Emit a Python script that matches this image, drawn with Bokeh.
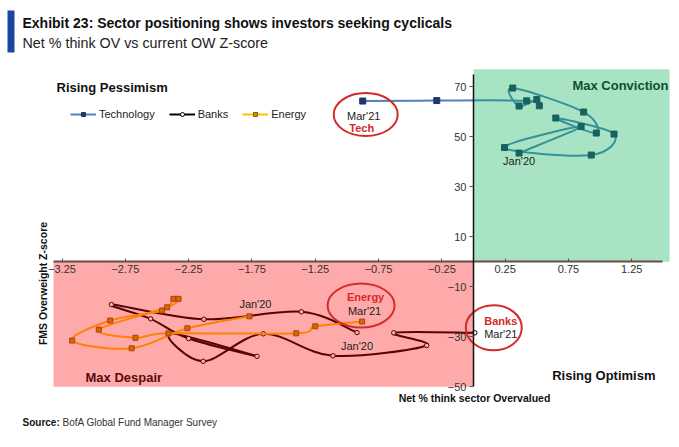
import numpy as np
from bokeh.plotting import figure
from bokeh.models import Range1d, FixedTicker, Legend, LegendItem, Label, ColumnDataSource
from bokeh.embed import file_html
from bokeh.resources import INLINE

# ---------------- data (Jan'20 -> Mar'21) ----------------
tech_x = [0.36, 0.85, 0.245, 0.93, 1.11, 0.65, 0.97, 0.87, 0.31, 0.36, 0.50, 0.52, 0.42, -0.29, -0.875]
tech_y = [43.5, 54.1, 45.7, 42.7, 51.1, 57.5, 51.5, 59.9, 69.5, 62.3, 64.9, 62.4, 64.4, 64.5, 64.3]

banks_x = [-0.92, -1.36, -2.13, -2.86, -2.55, -2.25, -1.71, -2.40, -2.135, -1.66, -1.11, -0.37, -0.63, 0.01]
banks_y = [-28.3, -20.0, -23.0, -17.1, -22.8, -30.7, -37.8, -28.6, -39.8, -28.8, -37.6, -33.5, -28.4, -28.4]

energy_x = [-1.77, -2.26, -2.70, -3.17, -2.87, -2.46, -2.37, -2.33, -2.42, -2.96, -2.67, -2.41, -1.40, -1.25, -0.88]
energy_y = [-21.8, -26.6, -34.6, -31.5, -23.5, -19.5, -14.8, -14.8, -18.2, -27.1, -30.4, -28.6, -28.6, -25.8, -23.9]

x_ticks = [-3.25, -2.75, -2.25, -1.75, -1.25, -0.75, -0.25, 0.25, 0.75, 1.25]
y_ticks = [70, 50, 30, 10, -10, -30, -50]

# ---------------- layout helpers ----------------
W, H = 679, 447
X0, SX = 473.0, 126.6   # px of x=0, px per unit
Y0, SY = 261.3, 2.5     # px of y=0, px per unit


def dx(px):  # picture px -> data x
    return (px - X0) / SX


def dy(py):  # picture py -> data y
    return (Y0 - py) / SY


p = figure(width=W, height=H, output_backend="svg", toolbar_location=None,
           x_range=Range1d(-X0 / SX, (W - X0) / SX),
           y_range=Range1d((Y0 - H) / SY, Y0 / SY),
           min_border=0)
p.outline_line_color = None
p.grid.visible = False
p.background_fill_color = "white"


def smooth(xs, ys, t=1.0 / 6.0):
    x = np.asarray(xs, float)
    y = np.asarray(ys, float)
    n = len(x)
    xp = np.concatenate([[x[0]], x, [x[-1]]])
    yp = np.concatenate([[y[0]], y, [y[-1]]])
    i = np.arange(n - 1) + 1
    return dict(x0=x[:-1], y0=y[:-1], x1=x[1:], y1=y[1:],
                cx0=xp[i] + (xp[i + 1] - xp[i - 1]) * t,
                cy0=yp[i] + (yp[i + 1] - yp[i - 1]) * t,
                cx1=xp[i + 1] - (xp[i + 2] - xp[i]) * t,
                cy1=yp[i + 1] - (yp[i + 2] - yp[i]) * t)


TECH_C, TECH_M = "#4f81bd", "#1f3864"
BANK_C = "#000000"
EN_C, EN_M, EN_F = "#ffc000", "#7f6000", "#c89600"

# series lines
p.bezier(source=ColumnDataSource(smooth(tech_x, tech_y)), x0="x0", y0="y0", x1="x1", y1="y1",
         cx0="cx0", cy0="cy0", cx1="cx1", cy1="cy1", line_color=TECH_C, line_width=2)
tech_pts = p.scatter(tech_x, tech_y, marker="square", size=6, fill_color=TECH_M, line_color=TECH_M)

p.bezier(source=ColumnDataSource(smooth(banks_x, banks_y)), x0="x0", y0="y0", x1="x1", y1="y1",
         cx0="cx0", cy0="cy0", cx1="cx1", cy1="cy1", line_color=BANK_C, line_width=2)
bank_pts = p.scatter(banks_x, banks_y, marker="circle", size=4.5, fill_color="white", line_color=BANK_C,
                     line_width=1)

p.bezier(source=ColumnDataSource(smooth(energy_x, energy_y)), x0="x0", y0="y0", x1="x1", y1="y1",
         cx0="cx0", cy0="cy0", cx1="cx1", cy1="cy1", line_color=EN_C, line_width=2)
en_pts = p.scatter(energy_x, energy_y, marker="square", size=5, fill_color=EN_F, line_color=EN_M,
                   line_width=1)

# translucent quadrant overlays (drawn over the lines)
p.quad(left=[0], right=[dx(669)], bottom=[0], top=[77], fill_color="#06b256", fill_alpha=0.35,
       line_color=None)
p.quad(left=[dx(53)], right=[0], bottom=[-50], top=[0], fill_color="#ff0c0c", fill_alpha=0.35,
       line_color=None)

# axes through the origin
p.xaxis.fixed_location = 0
p.yaxis.fixed_location = 0
p.xaxis.ticker = FixedTicker(ticks=x_ticks)
p.yaxis.ticker = FixedTicker(ticks=y_ticks)
p.xaxis.bounds = (dx(53), 1.49)
p.yaxis.bounds = (-50, 75)
for ax in (p.xaxis, p.yaxis):
    ax.minor_tick_line_color = None
    ax.major_label_text_font = "Liberation Sans"
    ax.major_label_text_font_size = "11px"
    ax.major_label_text_color = "#333333"
    ax.major_tick_line_color = "#555555"
p.xaxis.major_tick_in = 3
p.xaxis.major_tick_out = 0
p.xaxis.major_label_standoff = 3
p.xaxis.axis_line_color = "#6b4a4a"
p.xaxis.axis_line_width = 2
p.yaxis.major_tick_in = 0
p.yaxis.major_tick_out = 4
p.yaxis.major_label_standoff = 3
p.yaxis.axis_line_color = "#111111"
p.yaxis.axis_line_width = 1.5

# legend (line swatches + markers)
lt = p.line(x=[np.nan], y=[np.nan], line_color=TECH_C, line_width=2)
lb = p.line(x=[np.nan], y=[np.nan], line_color=BANK_C, line_width=2)
le = p.line(x=[np.nan], y=[np.nan], line_color=EN_C, line_width=2)
legend = Legend(items=[LegendItem(label="Technology", renderers=[lt, tech_pts]),
                       LegendItem(label="Banks", renderers=[lb, bank_pts]),
                       LegendItem(label="Energy", renderers=[le, en_pts])],
                orientation="horizontal", location=(70, 327),
                label_text_font="Liberation Sans", label_text_font_size="11px",
                label_text_color="#222222",
                glyph_width=26, glyph_height=10, label_standoff=3, spacing=14,
                padding=0, margin=0, border_line_color=None, background_fill_alpha=0)
p.add_layout(legend, "center")

# annotation ellipses around Mar'21 points
RED = "#d42a2a"
p.ellipse(x=[tech_x[-1] + 3 / SX, energy_x[-1] - 1 / SX, banks_x[-1] + 19 / SX],
          y=[tech_y[-1] - 13.5 / SY, energy_y[-1] + 16 / SY, banks_y[-1] + 5 / SY],
          width=[64 / SX, 67 / SX, 56 / SX], height=[43 / SY, 44 / SY, 45 / SY],
          fill_color=None, line_color=RED, line_width=2)


def lab(x, y, text, size="11px", color="#222222", bold=False, align="center", angle=0.0,
        font="Liberation Sans", xo=0, yo=0):
    p.add_layout(Label(x=x, y=y, text=text, text_font=font, text_font_size=size,
                       text_color=color, text_font_style="bold" if bold else "normal",
                       text_align=align, text_baseline="middle", angle=angle,
                       x_offset=xo, y_offset=yo))


# point labels (offsets in px from the data point)
lab(tech_x[-1], tech_y[-1], "Mar'21", xo=1, yo=-15)
lab(tech_x[-1], tech_y[-1], "Tech", color=RED, bold=True, xo=-1, yo=-26.5)
lab(energy_x[-1], energy_y[-1], "Energy", color=RED, bold=True, xo=3.5, yo=25)
lab(energy_x[-1], energy_y[-1], "Mar'21", xo=2.5, yo=11)
lab(banks_x[-1], banks_y[-1], "Banks", color=RED, bold=True, xo=26, yo=12)
lab(banks_x[-1], banks_y[-1], "Mar'21", xo=26, yo=-1)
lab(tech_x[0], tech_y[0], "Jan'20", xo=0, yo=-8)
lab(energy_x[0], energy_y[0], "Jan'20", xo=6, yo=12)
lab(banks_x[0], banks_y[0], "Jan'20", xo=0, yo=-13)

# quadrant captions
lab(dx(56), dy(87), "Rising Pessimism", size="13px", color="#111111", bold=True, align="left")
lab(dx(668), dy(85), "Max Conviction", size="13px", color="#0f4f2c", bold=True, align="right")
lab(dx(85), dy(377), "Max Despair", size="13px", color="#5a0c0c", bold=True, align="left")
lab(dx(655), dy(375), "Rising Optimism", size="13px", color="#111111", bold=True, align="right")

# axis titles
lab(dx(474), dy(397), "Net % think sector Overvalued", size="10.5px", color="#111111", bold=True)
lab(dx(42), dy(283), "FMS Overweight Z-score", size="10.5px", color="#111111", bold=True,
    angle=np.pi / 2)

# title block
p.quad(left=[dx(7)], right=[dx(14)], top=[dy(10)], bottom=[dy(52)], fill_color="#1a47a0",
       line_color=None)
lab(dx(22), dy(22), "Exhibit 23: Sector positioning shows investors seeking cyclicals",
    size="14px", color="#111111", bold=True, align="left")
lab(dx(22), dy(42), "Net % think OV vs current OW Z-score", size="14.3px", color="#222222",
    align="left")
lab(dx(22), dy(422), "Source:", size="10px", color="#111111", bold=True, align="left")
lab(dx(62), dy(422), "BofA Global Fund Manager Survey", size="10px", color="#333333", align="left")

open("out.html", "w").write(file_html(p, INLINE))
